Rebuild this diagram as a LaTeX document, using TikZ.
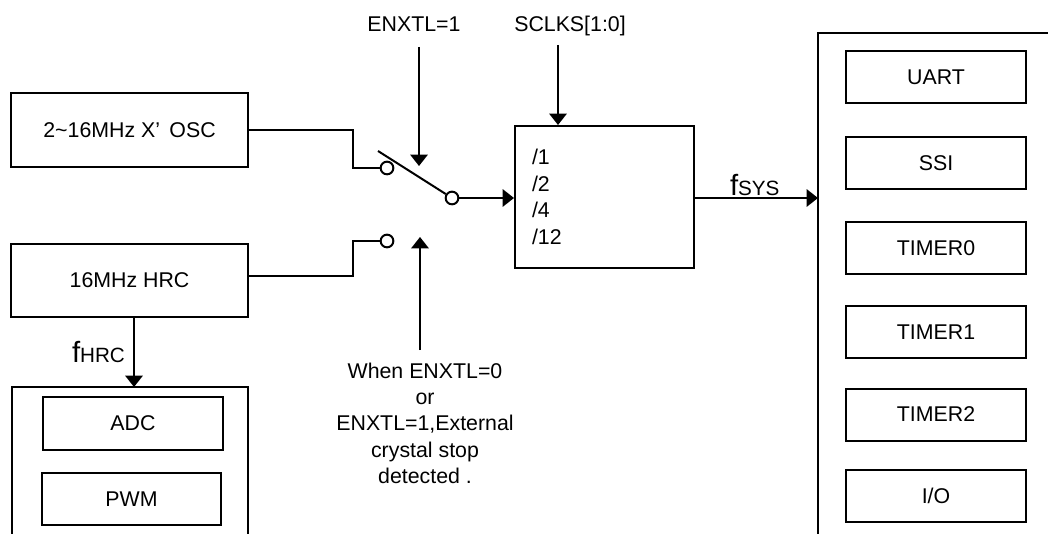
\documentclass[tikz,border=0pt]{standalone}
\usepackage{fontspec}
\setmainfont{Liberation Sans}
\usetikzlibrary{arrows.meta}
\begin{document}
\begin{tikzpicture}[x=0.75pt,y=-0.75pt,
  line width=1.5pt,
  box/.style={draw,line width=1.5pt,inner sep=0pt,font=\fontsize{16}{19}\selectfont},
  lbl/.style={inner sep=0pt,font=\fontsize{16}{19}\selectfont},
  term/.style={circle,draw,fill=white,line width=1.5pt,inner sep=0pt,minimum size=9.5pt},
  arr/.style={-{Triangle[length=8.5pt,width=13pt]}},
]
\useasboundingbox (0,0) rectangle (1048,534);

% source boxes
\node[box,minimum width=177.75pt,minimum height=55.5pt] (osc) at (129.5,130) {2\char`\~16MHz X’\hspace{7pt}OSC};
\node[box,minimum width=177.75pt,minimum height=54.75pt] (hrc) at (129.5,280.5) {16MHz HRC};

% divider
\node[box,minimum width=134.25pt,minimum height=106.5pt] (div) at (604.5,197) {};
\node[lbl,anchor=base west] (d1) at (531,165) {/1};
\node[lbl,anchor=base west] (d2) at (531,192) {/2};
\node[lbl,anchor=base west] (d3) at (531,218) {/4};
\node[lbl,anchor=base west] (d4) at (531,245) {/12};

% switch terminals
\node[term] (t1) at (387,168) {};
\node[term] (t2) at (452,198) {};
\node[term] (t3) at (387,241) {};
\coordinate (arm) at (378,151);

% top labels
\node[lbl,anchor=base] (en1) at (414,32) {ENXTL=1};
\node[lbl,anchor=base] (sck) at (570,32) {SCLKS[1:0]};
\coordinate (en1s) at (419,47);
\coordinate (en1t) at (419,166);
\coordinate (scks) at (558,45);
\coordinate (en0s) at (420,350);
\coordinate (en0t) at (420,237);

% bottom note
\node[lbl,anchor=north,align=center,font=\fontsize{16}{19.7}\selectfont] (note) at (425,362)
  {When ENXTL=0\\or\\ENXTL=1,External\\crystal stop\\detected .};

% right container
\draw (1048,33) -- (818,33) -- (818,534);
\coordinate (rb) at (818,198);
\foreach \n/\y/\t in {u/77.5/UART, s/163/SSI, t0/248.5/TIMER0, t1r/332/TIMER1, t2r/414.5/TIMER2, io/496/{I/O}}{
  \node[box,minimum width=135pt,minimum height=39pt] (\n) at (936,\y) {\t};
}

% left-bottom container
\draw (12,534) -- (12,387) -- (248,387) -- (248,534);
\coordinate (lb) at (134,387);
\coordinate (hrcs) at (134,317);
\node[box,minimum width=135pt,minimum height=39.75pt] (adc) at (133,423.5) {ADC};
\node[box,minimum width=134.25pt,minimum height=39pt] (pwm) at (131.5,499) {PWM};

% connectors
\draw (osc.east) -- ++(104,0) |- (t1.west);
\draw ([yshift=3.4pt]hrc.east) -- ++(104,0) |- (t3.west);
\draw (arm) -- (t2);
\draw[arr] (t2.east) -- (t2.east -| div.west);
\draw[arr] (en1s) -- (en1t);
\draw[arr] (scks) -- (scks |- div.north);
\draw[arr] (en0s) -- (en0t);
\draw[arr] (div.east |- rb) -- (rb);
\draw[arr] (hrcs) -- (lb);

% frequency labels
\node[inner sep=0pt,anchor=base west] (fsys) at (729,196)
  {\fontsize{22}{24}\selectfont f\fontsize{15.5}{18}\selectfont SYS};
\node[inner sep=0pt,anchor=base west] (fhrc) at (71,362)
  {\fontsize{22}{24}\selectfont f\fontsize{15.5}{18}\selectfont HRC};
\end{tikzpicture}
\end{document}
